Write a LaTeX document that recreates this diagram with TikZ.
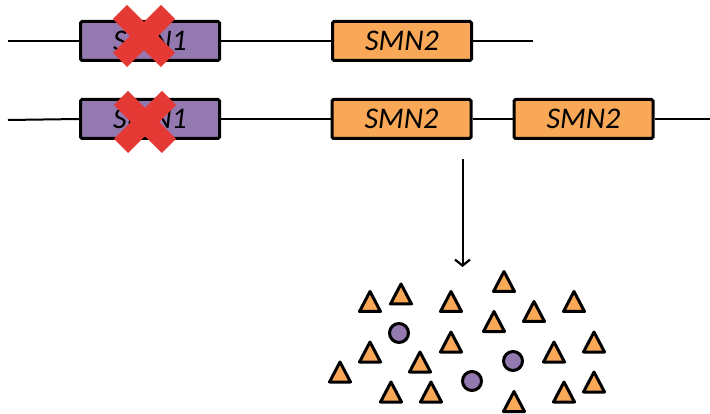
\documentclass[tikz,border=0pt]{standalone}
\usepackage{fontspec}
\setmainfont{Carlito}
\usetikzlibrary{arrows.meta}
\definecolor{smnpurple}{RGB}{148,121,176}
\definecolor{smnorange}{RGB}{249,168,87}
\definecolor{crossred}{RGB}{229,57,53}
\tikzset{
  genebox/.style={draw=black, line width=3pt, rounded corners=1.5pt, minimum width=139pt, minimum height=39pt, inner sep=0pt, font=\fontsize{30}{30}\selectfont\itshape},
  smnone/.style={genebox, fill=smnpurple},
  smntwo/.style={genebox, fill=smnorange},
  dnaline/.style={line width=2pt},
  crossarm/.style={line width=20pt, crossred, line cap=butt},
  tri/.style={draw=black, fill=smnorange, line width=3pt, line join=round},
  protcirc/.style={draw=black, fill=smnpurple, line width=3pt},
  flow/.style={line width=2pt, -{Straight Barb[length=6pt,width=15pt,line width=2.2pt]}}
}
\begin{document}
\begin{tikzpicture}[x=1pt,y=-1pt]
\useasboundingbox (0,0) rectangle (710,414);
% row 1
\coordinate (l1s) at (8,41);
\coordinate (l1e) at (533,41);
\node[smnone] (a1) at (150,41) {SMN1};
\node[smntwo] (b1) at (402,41) {SMN2};
\draw[dnaline] (l1s) -- (a1.west);
\draw[dnaline] (a1.east) -- (b1.west);
\draw[dnaline] (b1.east) -- (l1e);
% row 2
\coordinate (l2s) at (8,120);
\coordinate (l2e) at (710,119);
\node[smnone] (a2) at (150,119) {SMN1};
\node[smntwo] (b2) at (401.5,119) {SMN2};
\node[smntwo] (c2) at (583.5,119) {SMN2};
\draw[dnaline] (l2s) -- (a2.west);
\draw[dnaline] (a2.east) -- (b2.west);
\draw[dnaline] (b2.east) -- (c2.west);
\draw[dnaline] (c2.east) -- (l2e);
% crosses
\foreach \cx/\cy in {144/36, 145/122}{
  \draw[crossarm] (\cx-24,\cy-24) -- (\cx+24,\cy+24);
  \draw[crossarm] (\cx+24,\cy-24) -- (\cx-24,\cy+24);
}
% arrow
\coordinate (arrs) at (462.5,159);
\coordinate (arre) at (462.5,267);
\draw[flow] (arrs) -- (arre);
% proteins
\foreach \cx/\cy in {370/301.5, 401/294, 451/301.5, 504/281.5, 534/311.5, 574/301.5, 494/321.5, 370/352, 451/342, 594/342, 554/352, 420/362, 340/372, 391/392, 431/392, 514/401.5, 564/392, 594/382}{
  \draw[tri] (\cx,\cy-10) -- (\cx+10.5,\cy+10) -- (\cx-10.5,\cy+10) -- cycle;
}
\foreach \cx/\cy in {399/333, 513/361, 472/381}{
  \draw[protcirc] (\cx,\cy) circle (9.5);
}
\end{tikzpicture}
\end{document}
